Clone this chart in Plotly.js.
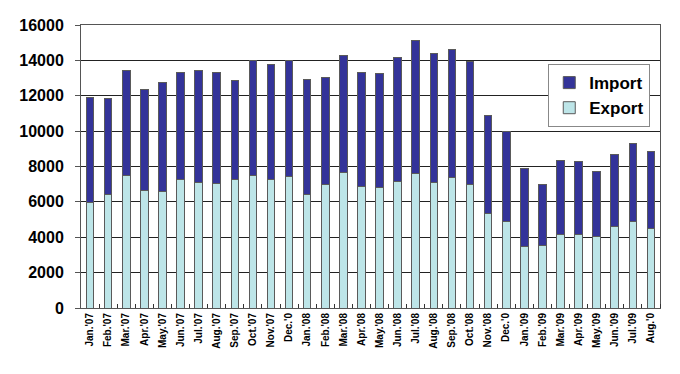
<!DOCTYPE html>
<html>
<head>
<meta charset="utf-8">
<script src="https://cdn.plot.ly/plotly-3.0.1.min.js"></script>
<style>html,body{margin:0;padding:0;background:#fff;}#chart{width:680px;height:374px;}</style>
</head>
<body>
<div id="chart"></div>
<script>
const months = ["Jan.'07","Feb.'07","Mar.'07","Apr.'07","May.'07","Jun.'07","Jul.'07","Aug.'07","Sep.'07","Oct.'07","Nov.'07","Dec.'0",
"Jan.'08","Feb.'08","Mar.'08","Apr.'08","May.'08","Jun.'08","Jul.'08","Aug.'08","Sep.'08","Oct.'08","Nov.'08","Dec.'0",
"Jan.'09","Feb.'09","Mar.'09","Apr.'09","May.'09","Jun.'09","Jul.'09","Aug.'0"];
const exportVals = [5960,6430,7470,6640,6590,7280,7080,7040,7260,7470,7280,7430,
6420,7000,7660,6890,6830,7170,7620,7080,7400,6960,5360,4870,
3490,3510,4170,4170,4020,4590,4870,4510];
const totalVals = [11890,11850,13420,12340,12760,13320,13420,13320,12890,14000,13740,14000,
12930,13020,14280,13320,13280,14170,15150,14400,14620,13910,10870,9960,
7890,7000,8340,8280,7720,8660,9280,8830];
const importVals = totalVals.map((t,i)=>t-exportVals[i]);
const xIdx = months.map((_,i)=>i);

const traces = [
  {type:'bar', name:'Export', x:xIdx, y:exportVals,
   marker:{color:'#BDE5E8', line:{color:'#5a5a5a', width:1}}, width:0.42},
  {type:'bar', name:'Import', x:xIdx, y:importVals,
   marker:{color:'#333399', line:{color:'#5a5a5a', width:1}}, width:0.42}
];

const layout = {
  width:680, height:374,
  margin:{l:81, r:20, t:25, b:66},
  barmode:'stack',
  paper_bgcolor:'#fff', plot_bgcolor:'#fff',
  font:{family:'Liberation Sans, Arial, sans-serif', color:'#000'},
  showlegend:true,
  legend:{x:0.807, y:0.862, xanchor:'left', yanchor:'top', traceorder:'reversed',
    bgcolor:'#fff', bordercolor:'#888', borderwidth:1,
    font:{size:17, family:'Liberation Sans, Arial, sans-serif', weight:'bold'}, itemwidth:30, tracegroupgap:0},
  xaxis:{range:[-0.5,31.5], tickmode:'array', tickvals:xIdx, ticktext:months,
    tickangle:-90, tickfont:{size:10, weight:'bold'}, ticks:'', showgrid:false, zeroline:false,
    showline:true, linecolor:'#555', linewidth:1, mirror:true,
    minor:{tickmode:'array', tickvals:xIdx.map(i=>i+0.5), ticks:'inside', ticklen:4, tickcolor:'#333', showgrid:false}},
  yaxis:{range:[0,16000], dtick:2000, tickformat:'d', tickfont:{size:16, weight:'bold'}, ticks:'outside', ticklen:5, tickcolor:'#555',
    ticklabelstandoff:8,
    showgrid:true, gridcolor:'#222', gridwidth:1, zeroline:false,
    showline:true, linecolor:'#555', linewidth:1, mirror:true}
};

Plotly.newPlot('chart', traces, layout, {displayModeBar:false, staticPlot:true});
</script>
</body>
</html>
